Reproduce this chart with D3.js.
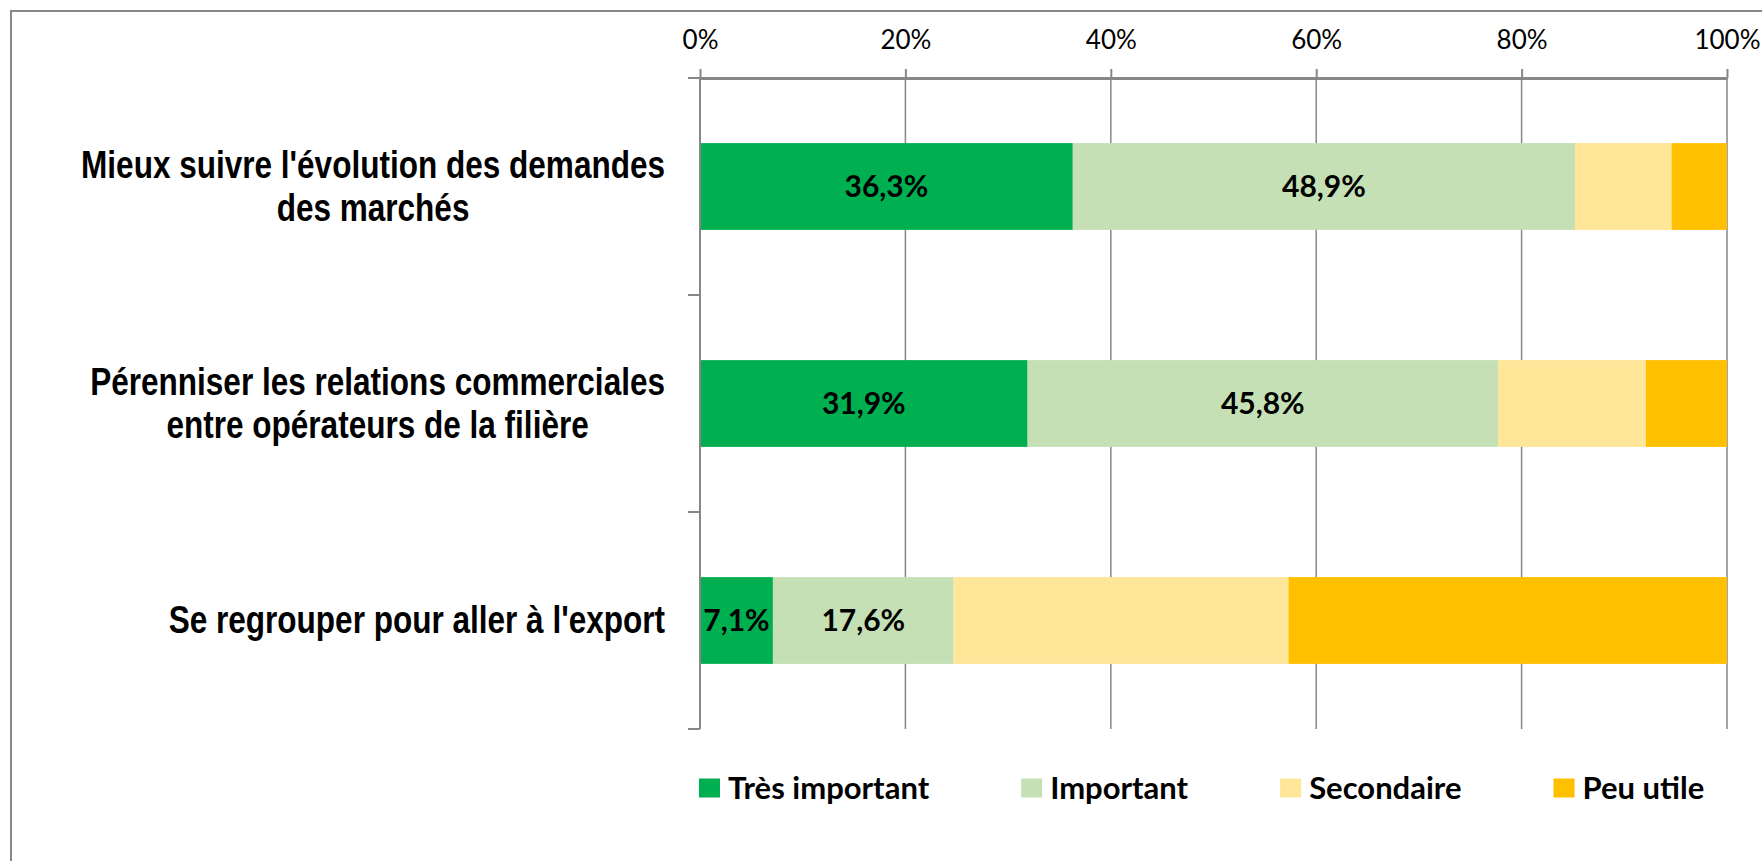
<!DOCTYPE html>
<html>
<head>
<meta charset="utf-8">
<script src="https://cdn.jsdelivr.net/npm/d3@7"></script>
<style>
  body { margin: 0; background: #fff; }
  svg { display: block; }
</style>
</head>
<body>
<script>
// Data
var categories = [
    ["Mieux suivre l'évolution des demandes", "des marchés"],
    ["Pérenniser les relations commerciales", "entre opérateurs de la filière"],
    ["Se regrouper pour aller à l'export"]
];
var seriesNames = ["Très important", "Important", "Secondaire", "Peu utile"];
var seriesColors = ["#00B050", "#C5E0B4", "#FFE699", "#FFC000"];
var tresImportant = [36.3, 31.9, 7.1];
var important = [48.9, 45.8, 17.6];
var secondaire = [9.4, 14.4, 32.6];
var peuUtile = [5.4, 7.9, 42.7];
var labelledSeries = [0, 1]; // only these carry value labels
var tickValues = [0, 20, 40, 60, 80, 100];

var WIDTH = 1762, HEIGHT = 861;
var MARGINS = { top: 78, right: 35, bottom: 132, left: 700 };
var AXIS_GREY = "#878787";
var CALIBRI = "Lato, 'Open Sans', sans-serif";
var ARIAL = "'Liberation Sans', Arial, sans-serif";

var svg = d3.select("body").append("svg")
    .attr("width", WIDTH)
    .attr("height", HEIGHT);

// chart area frame (only top/left edges are on screen)
svg.append("rect")
    .attr("x", 11).attr("y", 11)
    .attr("width", WIDTH + 20).attr("height", HEIGHT + 20)
    .attr("fill", "none")
    .attr("stroke", AXIS_GREY)
    .attr("stroke-width", 2);

var rowIds = categories.map(function(d, i) { return i; });

var xScale = d3.scaleLinear()
    .domain([0, 100])
    .range([MARGINS.left, WIDTH - MARGINS.right]);

var yScale = d3.scaleBand()
    .domain(rowIds)
    .range([MARGINS.top, HEIGHT - MARGINS.bottom])
    .paddingInner(0.6)
    .paddingOuter(0.3);

// stack the series
var table = rowIds.map(function(i) {
    return { row: i, s0: tresImportant[i], s1: important[i], s2: secondaire[i], s3: peuUtile[i] };
});
var stack = d3.stack().keys(["s0", "s1", "s2", "s3"]);
var stacked = stack(table);

// vertical gridlines
svg.append("g")
    .selectAll("line")
    .data(tickValues.slice(1))
    .enter().append("line")
    .attr("x1", function(d) { return xScale(d); })
    .attr("x2", function(d) { return xScale(d); })
    .attr("y1", yScale.range()[0])
    .attr("y2", yScale.range()[1])
    .attr("stroke", AXIS_GREY)
    .attr("stroke-width", 1.5);

// bars
var layers = svg.append("g").selectAll("g")
    .data(stacked)
    .enter().append("g")
    .attr("fill", function(d, i) { return seriesColors[i]; });

layers.selectAll("rect")
    .data(function(d) { return d; })
    .enter().append("rect")
    .attr("x", function(d) { return xScale(d[0]); })
    .attr("width", function(d) { return xScale(d[1]) - xScale(d[0]); })
    .attr("y", function(d) { return yScale(d.data.row); })
    .attr("height", yScale.bandwidth());

// value labels
layers.filter(function(d, i) { return labelledSeries.indexOf(i) >= 0; })
    .selectAll("text")
    .data(function(d) { return d; })
    .enter().append("text")
    .attr("x", function(d) { return (xScale(d[0]) + xScale(d[1])) / 2; })
    .attr("y", function(d) { return yScale(d.data.row) + yScale.bandwidth() / 2; })
    .attr("dy", "0.36em")
    .attr("text-anchor", "middle")
    .attr("font-family", CALIBRI)
    .attr("font-weight", "bold")
    .attr("font-size", "30px")
    .attr("fill", "#000")
    .text(function(d) { return (d[1] - d[0]).toFixed(1).replace(".", ",") + "%"; });

// top value axis
var xAxis = d3.axisTop(xScale)
    .tickValues(tickValues)
    .tickSize(9)
    .tickSizeOuter(0)
    .tickPadding(20)
    .tickFormat(function(d) { return d + "%"; });

var gx = svg.append("g")
    .attr("class", "x_axis")
    .attr("transform", "translate(0," + MARGINS.top + ")")
    .call(xAxis);
gx.select(".domain").attr("stroke", AXIS_GREY).attr("stroke-width", 3);
gx.selectAll(".tick line").attr("stroke", AXIS_GREY).attr("stroke-width", 2);
gx.selectAll(".tick text")
    .attr("font-family", CALIBRI)
    .attr("font-size", "26px")
    .attr("fill", "#000");

// left category axis, ticks sit between the bands
var gap = yScale.step() * yScale.paddingOuter();
var boundaries = rowIds.map(function(i) { return yScale(i) - gap; })
    .concat([yScale.range()[1]]);
var gy = svg.append("g").attr("class", "y_axis");
gy.append("line")
    .attr("x1", MARGINS.left).attr("x2", MARGINS.left)
    .attr("y1", yScale.range()[0]).attr("y2", yScale.range()[1])
    .attr("stroke", AXIS_GREY).attr("stroke-width", 2);
gy.selectAll("line.tick")
    .data(boundaries)
    .enter().append("line")
    .attr("class", "tick")
    .attr("x1", MARGINS.left - 12).attr("x2", MARGINS.left)
    .attr("y1", function(d) { return d; })
    .attr("y2", function(d) { return d; })
    .attr("stroke", AXIS_GREY).attr("stroke-width", 2);

// category labels: tall condensed type, each block centred on its widest line,
// right edge at 665
var labelRight = MARGINS.left - 35;
var lineHeight = 43;
var squeeze = 0.83;
categories.forEach(function(lines, i) {
    var cy = yScale(i) + yScale.bandwidth() / 2 - 1;
    var g = svg.append("g")
        .attr("transform", "translate(" + labelRight + "," + cy + ") scale(" + squeeze + ",1)");
    var texts = lines.map(function(line, k) {
        return g.append("text")
            .attr("y", (k - (lines.length - 1) / 2) * lineHeight)
            .attr("dy", "0.36em")
            .attr("text-anchor", "middle")
            .attr("font-family", ARIAL)
            .attr("font-weight", "bold")
            .attr("font-size", "38px")
            .attr("fill", "#000")
            .text(line);
    });
    var maxW = d3.max(texts, function(t) { return t.node().getComputedTextLength(); });
    texts.forEach(function(t) { t.attr("x", -maxW / 2); });
});

// legend
var legend = svg.append("g").attr("class", "legend");
var lx = MARGINS.left - 1;
var ly = 788;
seriesNames.forEach(function(name, i) {
    legend.append("rect")
        .attr("x", lx).attr("y", ly - 9.5)
        .attr("width", 21).attr("height", 19)
        .attr("fill", seriesColors[i]);
    var t = legend.append("text")
        .attr("x", lx + 29).attr("y", ly)
        .attr("dy", "0.36em")
        .attr("font-family", CALIBRI)
        .attr("font-weight", "bold")
        .attr("font-size", "31px")
        .attr("fill", "#000")
        .text(name);
    lx = lx + 29 + t.node().getComputedTextLength() + 92;
});
</script>
</body>
</html>
